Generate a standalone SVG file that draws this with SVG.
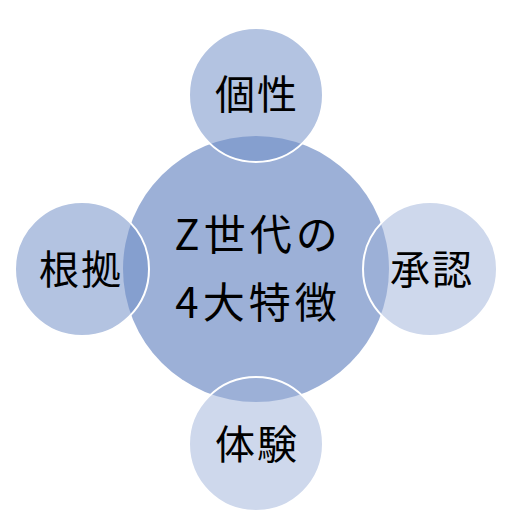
<svg xmlns="http://www.w3.org/2000/svg" width="514" height="529" viewBox="0 0 514 529">
<style>
.lbl{font-family:"Noto Sans CJK JP","Noto Sans CJK SC",sans-serif;font-size:40px;fill:#000;text-anchor:middle}
.big{font-size:42px;letter-spacing:4px}
.sat-a{fill:rgb(115,144,200);fill-opacity:0.54;stroke:#fff;stroke-width:2}
.sat-b{fill:#CED8EC}
.ring{fill:none;stroke:#fff;stroke-width:2}
</style>
<rect width="514" height="529" fill="#fff"/>
<g id="node-right-fill"><circle class="sat-b" cx="430" cy="269" r="67"/></g>
<g id="node-bottom-fill"><circle class="sat-b" cx="256" cy="444" r="67"/></g>
<g id="node-center">
<circle cx="256" cy="269" r="133" fill="#9CB0D7"/>
</g>
<g id="connectors"></g>
<g id="node-right">
<circle class="ring" cx="430" cy="269" r="67"/>
<text class="lbl" x="432" y="284" style="letter-spacing:2px">承認</text>
</g>
<g id="node-bottom">
<circle class="ring" cx="256" cy="444" r="67"/>
<text class="lbl" x="257" y="459" style="letter-spacing:2px">体験</text>
</g>
<g id="node-top">
<circle class="sat-a" cx="256" cy="95" r="67"/>
<text class="lbl" x="257" y="109" style="letter-spacing:2px">個性</text>
</g>
<g id="node-left">
<circle class="sat-a" cx="82" cy="269" r="67"/>
<text class="lbl" x="81" y="284" style="letter-spacing:2px">根拠</text>
</g>
<g id="center-label">
<text class="lbl big" x="258" y="250">Z世代の</text>
<text class="lbl big" x="258" y="318">4大特徴</text>
</g>
</svg>
